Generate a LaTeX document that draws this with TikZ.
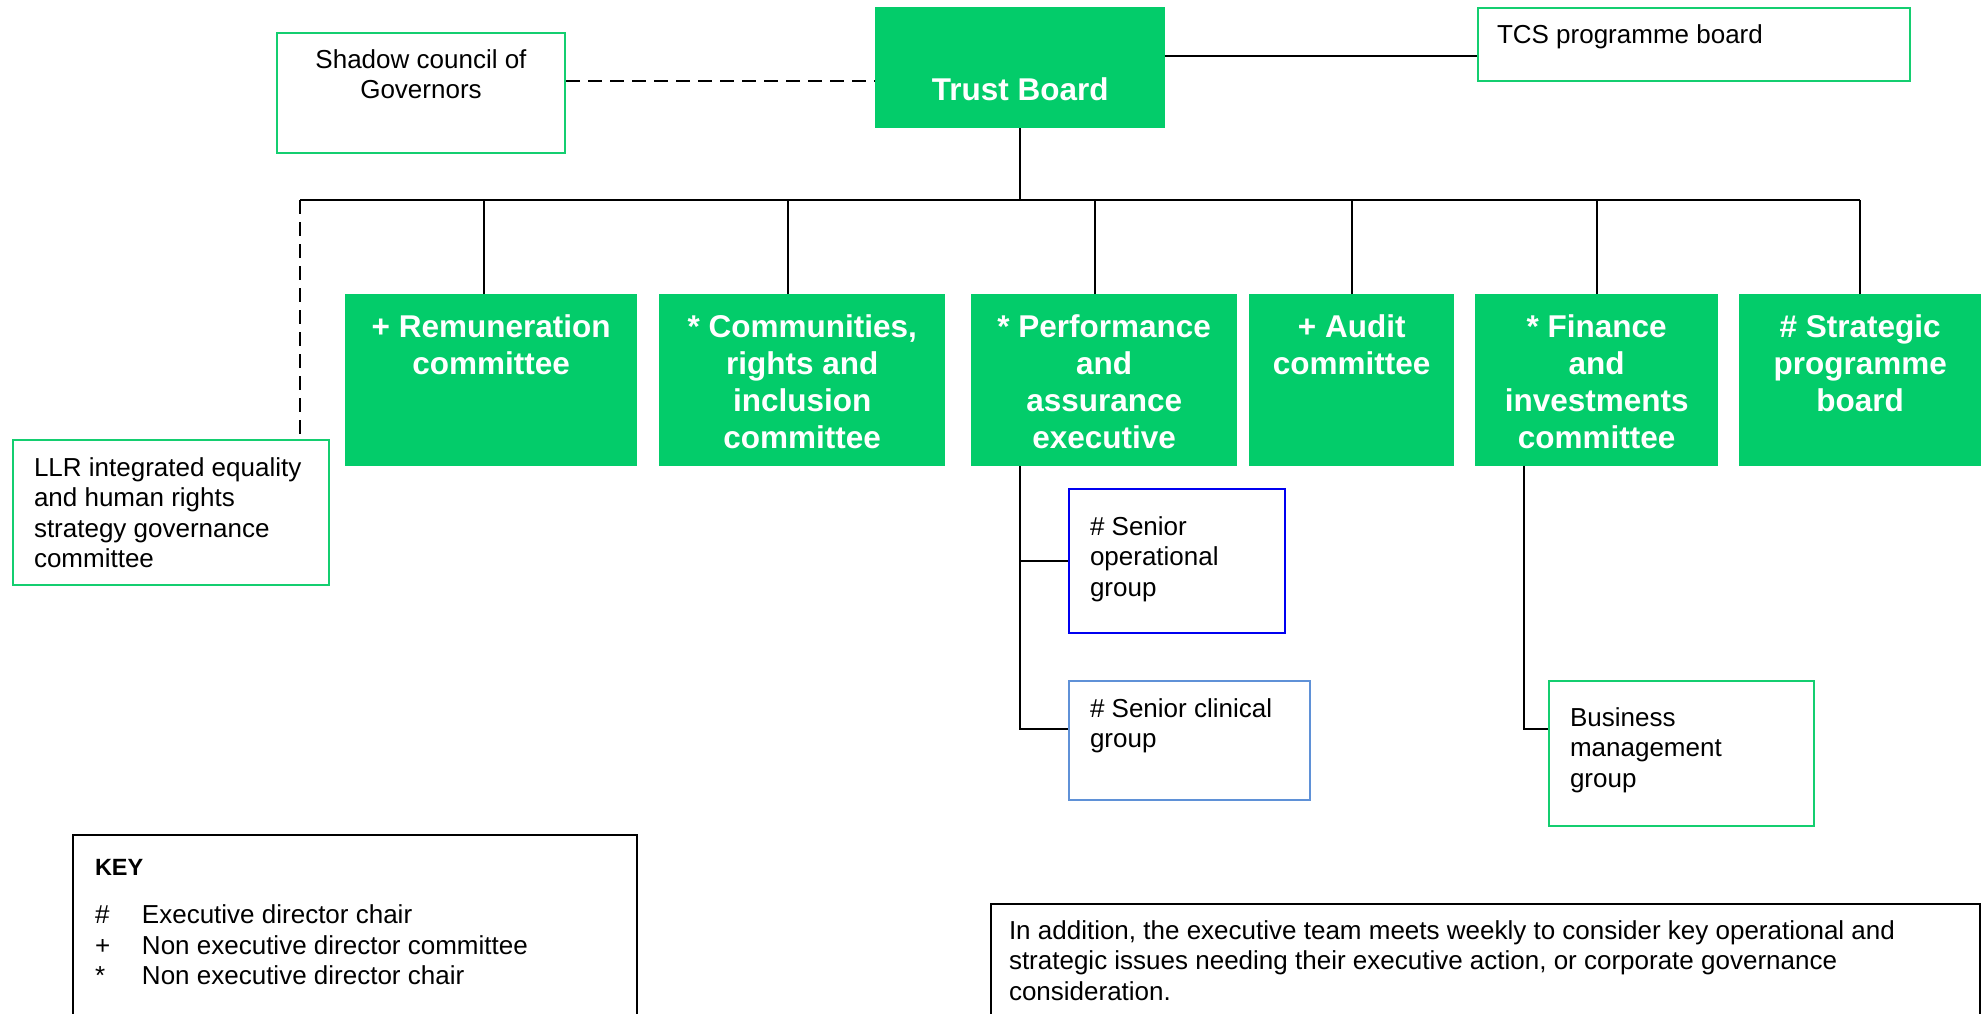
\documentclass[tikz,border=0pt]{standalone}
\usepackage{fontspec}
\setmainfont{Liberation Sans}

\definecolor{boardgreen}{RGB}{3,204,106}
\definecolor{edgegreen}{RGB}{20,206,112}
\definecolor{opblue}{RGB}{0,0,240}
\definecolor{clinblue}{RGB}{95,145,215}

% centred text block: width, height, first baseline from top, lines
\newcommand{\ctext}[4]{\parbox[c][#2][t]{#1}{\centering\rule{0pt}{#3}#4\par}}
% left-aligned text block: width, height, left inset, first baseline from top, lines
\newcommand{\ltext}[5]{\parbox[c][#2][t]{#1}{\raggedright\leftskip=#3\relax\rule{0pt}{#4}#5\par}}

\tikzset{
  board/.style={fill=boardgreen, text=white, inner sep=0pt, anchor=north west,
    font={\bfseries\fontsize{31.5}{37}\selectfont}},
  panel/.style={draw=edgegreen, line width=2pt, fill=white, inner sep=0pt, anchor=north west,
    font={\fontsize{26}{30.5}\selectfont}},
  link/.style={line width=2pt, draw=black},
  dashlink/.style={link, dash pattern=on 14pt off 8pt}
}

\begin{document}
\begin{tikzpicture}[x=1pt, y=-1pt]
\useasboundingbox (0,0) rectangle (1986,1014);
\clip (0,0) rectangle (1986,1014);

% top level
\node[board] (tb) at (875,7) {\ctext{290pt}{121pt}{93pt}{Trust Board}};
\node[panel] (sc) at (276,32) {\ctext{288pt}{120pt}{35pt}{Shadow council of\\Governors}};
\node[panel] (tcs) at (1477,7) {\ltext{432pt}{73pt}{19pt}{36pt}{TCS programme board}};
\node[panel] (llr) at (12,439) {\ltext{316pt}{145pt}{21pt}{36pt}{LLR integrated equality\\and human rights\\strategy governance\\committee}};

% committees
\node[board] (rem)  at (345,294)  {\ctext{292pt}{172pt}{43pt}{+ Remuneration\\committee}};
\node[board] (com)  at (659,294)  {\ctext{286pt}{172pt}{43pt}{* Communities,\\rights and\\inclusion\\committee}};
\node[board] (perf) at (971,294)  {\ctext{266pt}{172pt}{43pt}{* Performance\\and\\assurance\\executive}};
\node[board] (aud)  at (1249,294) {\ctext{205pt}{172pt}{43pt}{+ Audit\\committee}};
\node[board] (fin)  at (1475,294) {\ctext{243pt}{172pt}{43pt}{* Finance\\and\\investments\\committee}};
\node[board] (str)  at (1739,294) {\ctext{242pt}{172pt}{43pt}{\# Strategic\\programme\\board}};

% sub-groups
\node[panel, draw=opblue] (sog) at (1068,488) {\ltext{216pt}{144pt}{21pt}{46pt}{\# Senior\\operational\\group}};
\node[panel, draw=clinblue] (scg) at (1068,680) {\ltext{241pt}{119pt}{21pt}{36pt}{\# Senior clinical\\group}};
\node[panel] (bmg) at (1548,680) {\ltext{265pt}{145pt}{21pt}{45pt}{Business\\management\\group}};

% key and note
\node[panel, draw=black] (key) at (72,834) {\parbox[c][200pt][t]{564pt}{\raggedright\leftskip=22pt\relax
  \fontsize{26}{30.5}\selectfont
  \rule{0pt}{40pt}{\bfseries\fontsize{23.5}{28}\selectfont KEY}\\[18pt]
  \makebox[47pt][l]{\#}Executive director chair\\
  \makebox[47pt][l]{+}Non executive director committee\\
  \makebox[47pt][l]{*}Non executive director chair\par}};
\node[panel, draw=black, font={\fontsize{26}{30.5}\selectfont}] (note) at (990,903)
  {\ltext{989pt}{150pt}{18pt}{35pt}{In addition, the executive team meets weekly to consider key operational and\\strategic issues needing their executive action, or corporate governance\\consideration.}};

% connectors
\coordinate (busL) at (300,200);
\draw[dashlink] ([yshift=12pt]sc.east) -- ([yshift=12pt]sc.east -| tb.west);
\draw[link] ([yshift=11.5pt]tb.east) -- ([yshift=11.5pt]tb.east -| tcs.west);
\draw[link] (tb.south) -- (tb.south |- busL);
\draw[link] (busL) -- (busL -| str.north);
\draw[dashlink] (busL) -- (busL |- llr.north);

\draw[link] ([xshift=-7pt]rem.north) -- ([xshift=-7pt]rem.north |- busL);
\draw[link] ([xshift=-14pt]com.north) -- ([xshift=-14pt]com.north |- busL);
\draw[link] ([xshift=-9pt]perf.north) -- ([xshift=-9pt]perf.north |- busL);
\draw[link] (aud.north) -- (aud.north |- busL);
\draw[link] (fin.north) -- (fin.north |- busL);
\draw[link] (str.north) -- (str.north |- busL);

\coordinate (perfstem) at ([xshift=-84pt]perf.south);
\draw[link] (perfstem) |- ([yshift=12pt]scg.west);
\draw[link] (perfstem |- sog.west) -- (sog.west);
\draw[link] ([xshift=-72.5pt]fin.south) |- ([yshift=24.5pt]bmg.west);
\end{tikzpicture}
\end{document}
